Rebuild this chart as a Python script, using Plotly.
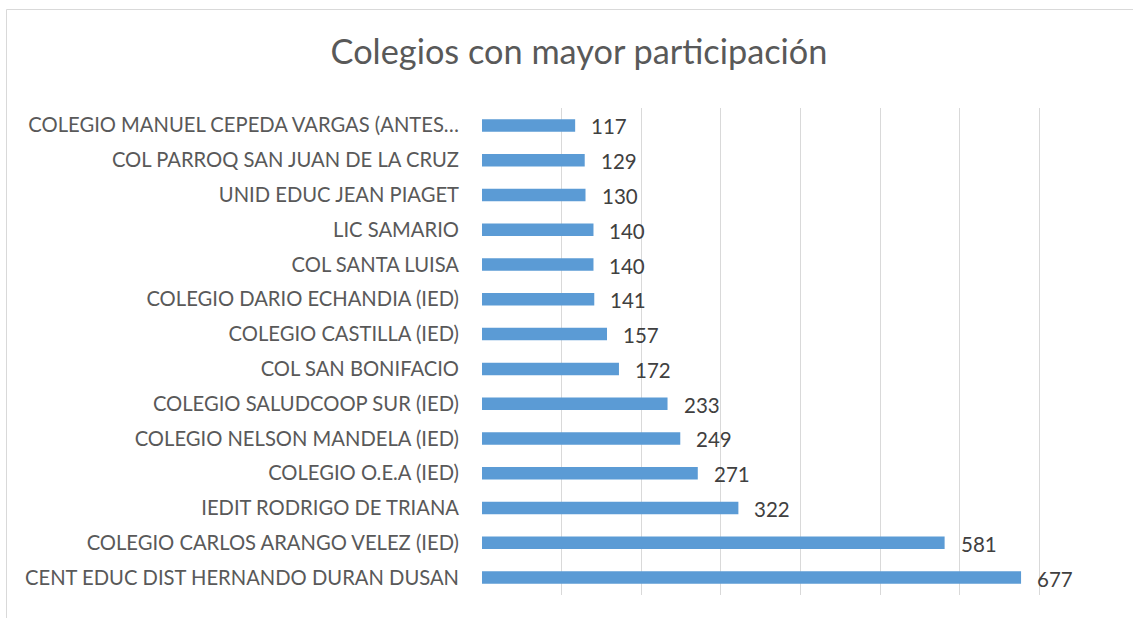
import plotly.graph_objects as go

categories = [
    "CENT EDUC DIST HERNANDO DURAN DUSAN",
    "COLEGIO CARLOS ARANGO VELEZ (IED)",
    "IEDIT RODRIGO DE TRIANA",
    "COLEGIO O.E.A (IED)",
    "COLEGIO NELSON MANDELA (IED)",
    "COLEGIO SALUDCOOP SUR (IED)",
    "COL SAN BONIFACIO",
    "COLEGIO CASTILLA (IED)",
    "COLEGIO DARIO ECHANDIA (IED)",
    "COL SANTA LUISA",
    "LIC SAMARIO",
    "UNID EDUC JEAN PIAGET",
    "COL PARROQ SAN JUAN DE LA CRUZ",
    "COLEGIO MANUEL CEPEDA VARGAS (ANTES…",
]
values = [677, 581, 322, 271, 249, 233, 172, 157, 141, 140, 140, 130, 129, 117]

W, H = 1133, 618
ml, mr, mt, mb = 482, 14, 108, 23
pw, ph = W - ml - mr, H - mt - mb

fig = go.Figure()
fig.add_trace(go.Bar(
    y=categories, x=values, orientation="h",
    marker=dict(color="#5B9BD5", line=dict(width=0)),
    width=0.36,
    hoverinfo="x+y",
))

for c, v in zip(categories, values):
    fig.add_annotation(x=v, y=c, text=str(v), showarrow=False,
                       xanchor="left", yanchor="middle", xshift=14, yshift=-1,
                       font=dict(family="Lato", size=20.5, color="#404040"))

# outer chart border (left and top visible)
fig.add_shape(type="rect", xref="paper", yref="paper",
              x0=(6.5 - ml) / pw, x1=(W + 5 - ml) / pw,
              y0=-(mb + 5) / ph, y1=1 + (mt - 9.5) / ph,
              line=dict(color="#D9D9D9", width=1), fillcolor="rgba(0,0,0,0)", layer="below")

fig.update_layout(
    width=W, height=H,
    margin=dict(l=ml, r=mr, t=mt, b=mb),
    paper_bgcolor="white", plot_bgcolor="white",
    title=dict(text="Colegios con mayor participación", x=579 / W, xanchor="center",
               y=1 - 52 / H, yanchor="middle",
               font=dict(family="Lato", size=34.3, color="#595959")),
    xaxis=dict(range=[0, 800], dtick=100, showgrid=True, gridcolor="#D9D9D9", gridwidth=1,
               showticklabels=False, zeroline=False, showline=False, fixedrange=True),
    yaxis=dict(range=[-0.5, 13.5], showgrid=False, zeroline=False, showline=False,
               tickfont=dict(family="Lato", size=20.2, color="#595959"),
               ticklabelstandoff=22, ticks=""),
    showlegend=False,
    bargap=0.64,
)

fig.write_html("out.html", config={"displayModeBar": False},
               post_script="document.body.style.margin='0px';")
